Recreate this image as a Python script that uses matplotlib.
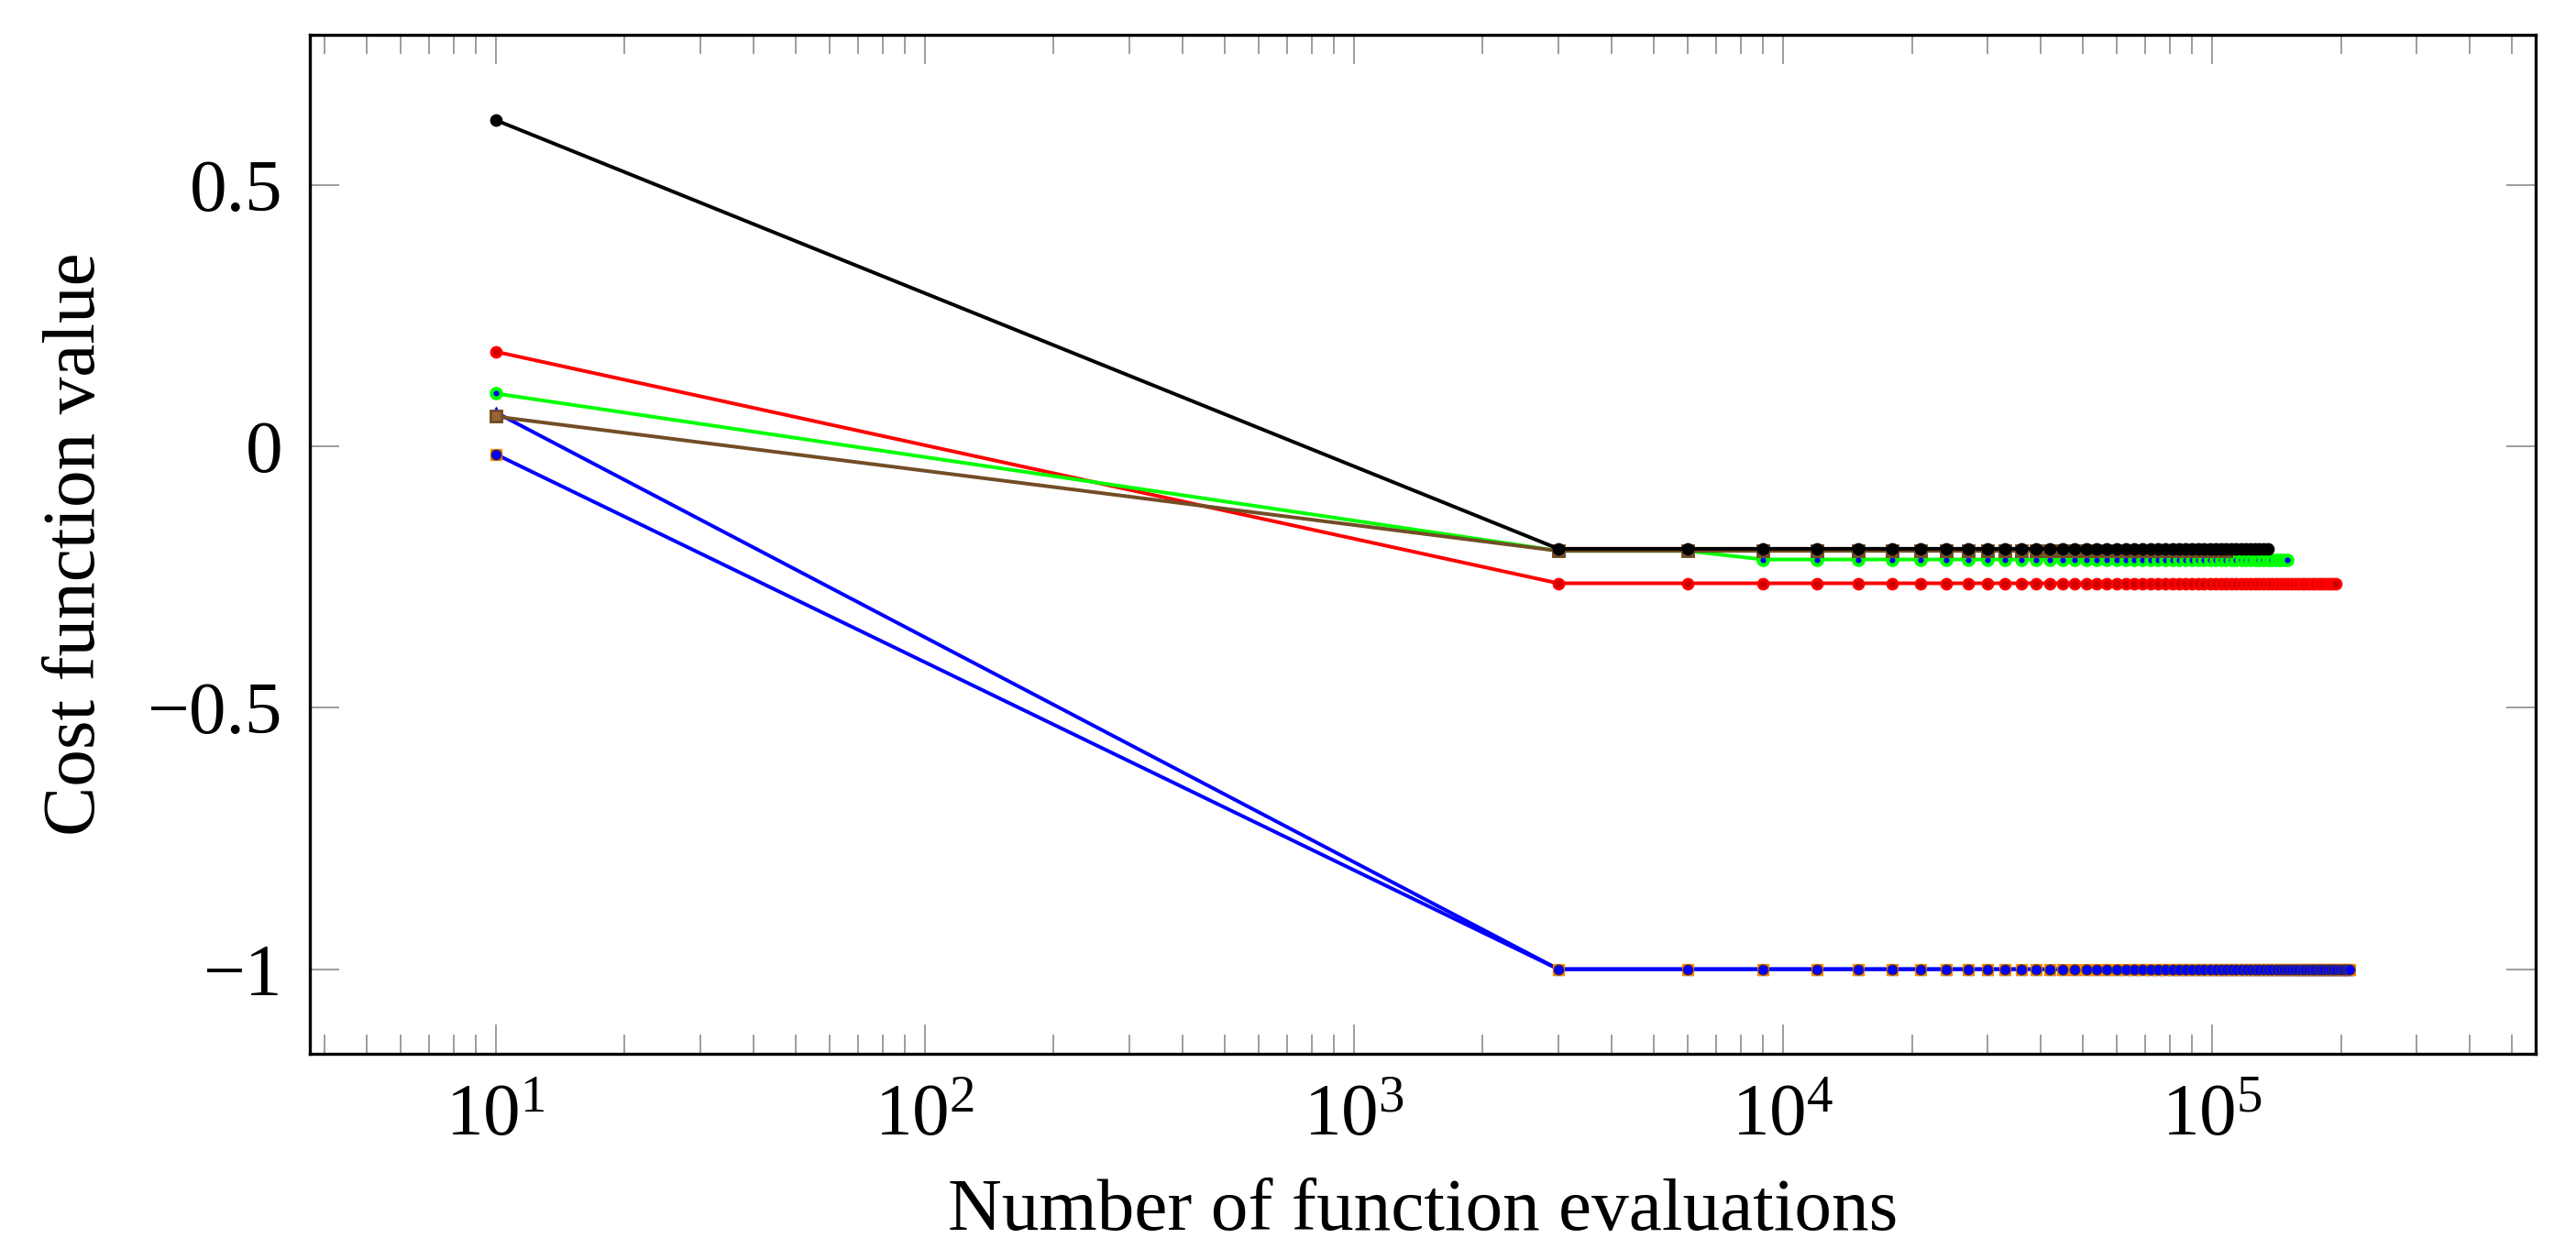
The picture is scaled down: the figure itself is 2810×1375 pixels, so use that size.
import numpy as np
import matplotlib
matplotlib.use("Agg")
import matplotlib.pyplot as plt
from matplotlib.ticker import LogLocator, FixedLocator, FixedFormatter, LogFormatterMathtext, NullFormatter

plt.rcParams['font.family'] = ['Liberation Serif', 'DejaVu Serif']
plt.rcParams['mathtext.fontset'] = 'custom'
plt.rcParams['mathtext.rm'] = 'Liberation Serif'
plt.rcParams['mathtext.it'] = 'Liberation Serif:italic'
plt.rcParams['font.size'] = 19.5

# Number of function evaluations (first sample, then every 3000)
evals = [10, 3000, 6000, 9000, 12000, 15000, 18000, 21000, 24000, 27000,
         30000, 33000, 36000, 39000, 42000, 45000, 48000, 51000, 54000, 57000,
         60000, 63000, 66000, 69000, 72000, 75000, 78000, 81000, 84000, 87000,
         90000, 93000, 96000, 99000, 102000, 105000, 108000, 111000, 114000, 117000,
         120000, 123000, 126000, 129000, 132000, 135000, 138000, 141000, 144000, 147000,
         150000, 153000, 156000, 159000, 162000, 165000, 168000, 171000, 174000, 177000,
         180000, 183000, 186000, 189000, 192000, 195000, 198000, 201000, 204000, 207000,
         210000]

# Cost function values
black_cost = [0.624] + [-0.196] * 45
red_cost = [0.181] + [-0.262] * 65
green_cost = [0.101, -0.2, -0.2] + [-0.2165] * 48
brown_cost = [0.057] + [-0.2] * 36
blue_tri_cost = [0.065] + [-1.0] * 70
blue_sq_cost = [-0.015] + [-1.0] * 70

brown = '#734d26'

fig, ax = plt.subplots(figsize=(2811 / 300, 1375 / 300), dpi=300)
fig.subplots_adjust(left=0.1202, right=0.984, bottom=0.1636, top=0.9724)

lw = 0.95
ax.plot(evals[:len(blue_tri_cost)], blue_tri_cost, color='blue', lw=lw,
        marker='^', ms=3.0, mfc='blue', mec='blue', mew=0.3, zorder=2)
ax.plot(evals[:len(blue_sq_cost)], blue_sq_cost, color='blue', lw=lw,
        marker='s', ms=3.0, mfc='#ff8000', mec='#ff8c00', mew=0.3, zorder=3)
ax.plot(evals[:len(blue_sq_cost)], blue_sq_cost, ls='none',
        marker='o', ms=2.6, mfc='blue', mec='#3a2a5a', mew=0.3, zorder=4)
ax.plot(evals[:len(red_cost)], red_cost, color='red', lw=lw,
        marker='o', ms=2.6, mfc='#cc0000', mec='red', mew=0.7, zorder=5)
ax.plot(evals[:len(green_cost)], green_cost, color='#00ff00', lw=lw,
        marker='o', ms=2.5, mfc='blue', mec='#00ff00', mew=1.0, zorder=6)
ax.plot(evals[:len(brown_cost)], brown_cost, color=brown, lw=lw,
        marker='s', ms=2.9, mfc='#996633', mec=brown, mew=0.7, zorder=7)
ax.plot(evals[:len(black_cost)], black_cost, color='black', lw=lw,
        marker='o', ms=2.8, mfc='black', mec='black', mew=0.5, zorder=8)

ax.set_xscale('log')
ax.set_xlim(10 ** 0.567, 10 ** 5.755)
ax.set_ylim(-1.162, 0.787)

ax.xaxis.set_major_locator(LogLocator(base=10, numticks=10))
ax.xaxis.set_major_formatter(LogFormatterMathtext())
ax.xaxis.set_minor_locator(LogLocator(base=10, subs=np.arange(2, 10), numticks=20))
ax.xaxis.set_minor_formatter(NullFormatter())

ax.yaxis.set_major_locator(FixedLocator([-1, -0.5, 0, 0.5]))
ax.yaxis.set_major_formatter(FixedFormatter(['\u22121', '\u22120.5', '0', '0.5']))

ax.tick_params(which='both', direction='in', top=True, right=True,
               color='#8c8c8c', width=0.4)
ax.tick_params(which='major', length=7.7, pad=7)
ax.tick_params(which='minor', length=5)
ax.tick_params(axis='x', which='major', pad=8)

for s in ax.spines.values():
    s.set_linewidth(0.8)

ax.set_xlabel('Number of function evaluations', labelpad=7)
ax.set_ylabel('Cost function value', labelpad=10)

fig.savefig('out.png', dpi=300)
